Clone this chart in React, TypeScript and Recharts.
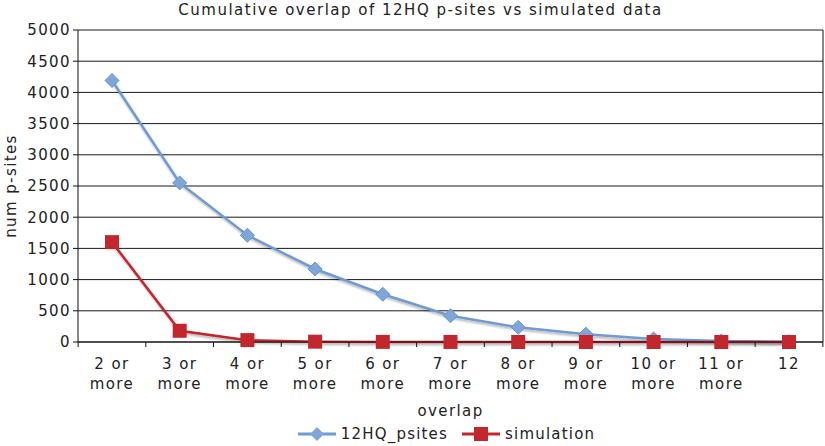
import { LineChart, Line, XAxis, YAxis, CartesianGrid, Legend } from "recharts";

const overlapLabels = [
  "2 or more",
  "3 or more",
  "4 or more",
  "5 or more",
  "6 or more",
  "7 or more",
  "8 or more",
  "9 or more",
  "10 or more",
  "11 or more",
  "12",
];
const hqPsites = [4190, 2550, 1710, 1170, 765, 420, 235, 125, 50, 15, 5];
const simulation = [1600, 180, 30, 5, 2, 1, 0, 0, 0, 0, 0];
const yTicks = [0, 500, 1000, 1500, 2000, 2500, 3000, 3500, 4000, 4500, 5000];

const data = overlapLabels.map((overlap, i) => ({
  overlap,
  hq: hqPsites[i],
  sim: simulation[i],
}));

const FONT = "'DejaVu Sans', Verdana, sans-serif";
const BLUE = "#6f9ad3";
const RED = "#c1272d";
const TXT = { fontFamily: FONT, fontSize: 15, fill: "#222", letterSpacing: 1.4 };

const CategoryTick = (props: any) => {
  const { x, y, payload, index } = props;
  const band = 745 / overlapLabels.length;
  const words = String(payload.value).split(" ");
  const lines = words.length > 1 ? [words[0] + " " + words[1], words.slice(2).join(" ")] : [words[0]];
  return (
    <g>
      <line x1={x - band / 2} x2={x - band / 2} y1={y - 8} y2={y - 3} stroke="#111" />
      {index === overlapLabels.length - 1 && (
        <line x1={x + band / 2} x2={x + band / 2} y1={y - 8} y2={y - 3} stroke="#111" />
      )}
      <text x={x} y={y + 19} textAnchor="middle" {...TXT}>
        {lines.map((l, k) => (
          <tspan key={k} x={x} dy={k === 0 ? 0 : 20}>
            {l}
          </tspan>
        ))}
      </text>
    </g>
  );
};

const Diamond = ({ cx, cy }: any) =>
  cx == null ? null : (
    <path
      d={`M${cx},${cy - 7}L${cx + 7},${cy}L${cx},${cy + 7}L${cx - 7},${cy}Z`}
      fill="#7fa6db"
      stroke="#6a93cc"
      strokeWidth={1}
    />
  );

const Square = ({ cx, cy }: any) =>
  cx == null ? null : <rect x={cx - 7} y={cy - 7} width={14} height={14} fill={RED} />;

const LegendContent = (props: any) => {
  const { payload } = props;
  return (
    <div
      style={{
        display: "flex",
        justifyContent: "center",
        gap: 14,
        fontFamily: FONT,
        fontSize: 15,
        letterSpacing: 1.2,
        color: "#222",
        paddingLeft: 68,
      }}
    >
      {(payload || []).map((p: any) => (
        <div key={p.value} style={{ display: "flex", alignItems: "center", gap: 5 }}>
          <svg width={38} height={16}>
            <line x1={0} x2={38} y1={8} y2={8} stroke={p.color} strokeWidth={3} />
            {p.dataKey === "hq" ? (
              <path d="M19,1L26,8L19,15L12,8Z" fill="#7fa6db" />
            ) : (
              <rect x={12} y={1} width={14} height={14} fill={RED} />
            )}
          </svg>
          <span>{p.value}</span>
        </div>
      ))}
    </div>
  );
};

export default function App() {
  return (
    <div style={{ position: "absolute", left: 0, top: 0, width: 825, height: 446, background: "#fff" }}>
      <div
        style={{
          position: "absolute",
          top: 1,
          left: 0,
          width: 825,
          textAlign: "center",
          fontFamily: FONT,
          fontSize: 15,
          letterSpacing: 1.5,
          color: "#222",
          paddingLeft: 16,
          boxSizing: "border-box",
        }}
      >
        Cumulative overlap of 12HQ p-sites vs simulated data
      </div>
      <LineChart width={825} height={446} data={data} margin={{ top: 30, right: 0, left: 0, bottom: 0 }}>
        <defs>
          <filter id="shade" x="-10%" y="-10%" width="130%" height="130%">
            <feDropShadow dx={1} dy={2} stdDeviation={1} floodColor="#000" floodOpacity={0.3} />
          </filter>
        </defs>
        <CartesianGrid vertical={false} stroke="#1a1a1a" strokeWidth={1} />
        <XAxis
          dataKey="overlap"
          height={80}
          stroke="#111"
          tickLine={false}
          tick={<CategoryTick />}
          interval={0}
          padding={{ left: 34, right: 34 }}
          label={{ value: "overlap", position: "insideBottom", offset: 6, ...TXT }}
        />
        <YAxis
          width={78}
          domain={[0, 5000]}
          ticks={yTicks}
          stroke="#111"
          tickSize={5}
          tick={TXT}
          label={{ value: "num p-sites", angle: -90, position: "insideLeft", offset: 11, ...TXT, style: { textAnchor: "middle" } }}
        />
        <YAxis yAxisId="right" orientation="right" width={2} stroke="#111" tick={false} tickLine={false} />
        <Legend verticalAlign="bottom" height={24} wrapperStyle={{ bottom: -3 }} content={<LegendContent />} />
        <Line
          type="linear"
          dataKey="hq"
          name="12HQ_psites"
          stroke={BLUE}
          strokeWidth={2.5}
          dot={<Diamond />}
          filter="url(#shade)"
          isAnimationActive={false}
        />
        <Line
          type="linear"
          dataKey="sim"
          name="simulation"
          stroke={RED}
          strokeWidth={2.5}
          dot={<Square />}
          filter="url(#shade)"
          isAnimationActive={false}
        />
      </LineChart>
    </div>
  );
}
